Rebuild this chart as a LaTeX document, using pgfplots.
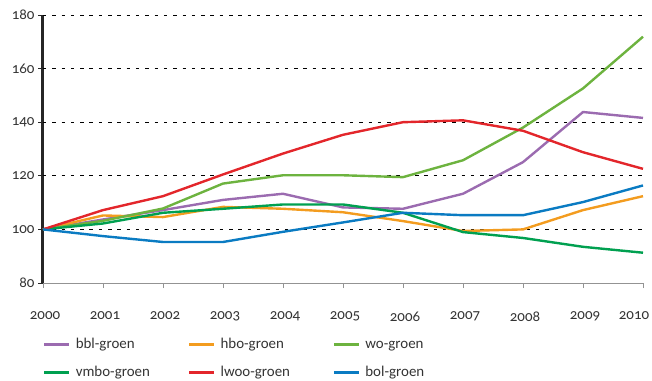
\documentclass[border=0pt]{standalone}
\usepackage{pgfplots}
\pgfplotsset{compat=1.18}
\usepackage{fontspec}
\setmainfont{Carlito}[Numbers=OldStyle]
\definecolor{cbbl}{HTML}{9B6BB0}
\definecolor{chbo}{HTML}{F39C1F}
\definecolor{cwo}{HTML}{6DB33F}
\definecolor{cvmbo}{HTML}{00A050}
\definecolor{clwoo}{HTML}{E3262B}
\definecolor{cbol}{HTML}{0A7BC2}
\definecolor{txt}{HTML}{333333}
\begin{document}
\begin{tikzpicture}
\begin{axis}[
  scale only axis,
  width=600bp, height=268bp,
  xmin=2000, xmax=2010, ymin=80, ymax=180,
  xtick={2000,2001,...,2009},
  extra x ticks={2010},
  extra x tick style={xticklabel style={xshift=-11bp}},
  ytick={80,100,...,180},
  extra y ticks={100,120,...,180},
  extra y tick labels={},
  extra y tick style={grid=major, major tick length=0pt},
  grid style={black, line width=0.8pt, dash pattern=on 3.5bp off 5.8bp},
  axis x line*=bottom, axis y line*=left,
  x axis line style={draw=gray!85, line width=0.8pt, -},
  y axis line style={draw=black!85, line width=3bp, -},
  xtick style={draw=gray!85, line width=0.8pt},
  ytick style={draw=black!85, line width=0.8pt},
  tick align=outside,
  major tick length=5bp,
  xticklabel style={yshift=-20bp, xshift=2bp},
  tick label style={font=\fontsize{15}{17}\selectfont, text=txt},
  /pgf/number format/assume math mode=true,
  /pgf/number format/1000 sep={},
  clip=false,
  legend columns=3,
  legend cell align=left,
  legend style={at={(axis description cs:0,0)}, anchor=north west, yshift=-55bp,
    draw=none, fill=none, inner sep=0pt, outer sep=0pt,
    row sep=15bp,
    font=\fontsize{15}{17}\selectfont, text=txt,
    nodes={inner sep=0pt, text height=10bp, text depth=3bp},
    /tikz/every odd column/.append style={column sep=5bp}},
  legend image code/.code={\draw[line width=2.8bp] (0bp,0bp) -- (25bp,0bp);},
  every axis plot/.append style={line width=2.4bp, mark=none},
]
\addplot[cbbl] coordinates {(2000,100)(2001,103.7)(2002,107.2)(2003,111)(2004,113.3)(2005,108.2)(2006,107.7)(2007,113.3)(2008,125.1)(2009,143.8)(2010,141.6)};
\addlegendentry{\makebox[112bp][l]{bbl-groen}}
\addplot[chbo] coordinates {(2000,100)(2001,105.2)(2002,104.6)(2003,108.4)(2004,107.7)(2005,106.4)(2006,103.1)(2007,99.4)(2008,100)(2009,107.2)(2010,112.4)};
\addlegendentry{\makebox[112bp][l]{hbo-groen}}
\addplot[cwo] coordinates {(2000,100)(2001,103.2)(2002,107.8)(2003,117.1)(2004,120.2)(2005,120.2)(2006,119.5)(2007,125.8)(2008,138)(2009,152.6)(2010,171.9)};
\addlegendentry{\makebox[112bp][l]{wo-groen}}
\addplot[cvmbo] coordinates {(2000,100)(2001,102.2)(2002,106.2)(2003,107.7)(2004,109.3)(2005,109.3)(2006,106.2)(2007,99)(2008,96.8)(2009,93.5)(2010,91.3)};
\addlegendentry{\makebox[112bp][l]{vmbo-groen}}
\addplot[clwoo] coordinates {(2000,100)(2001,107.2)(2002,112.4)(2003,120.5)(2004,128.3)(2005,135.3)(2006,140)(2007,140.7)(2008,136.8)(2009,128.8)(2010,122.6)};
\addlegendentry{\makebox[112bp][l]{lwoo-groen}}
\addplot[cbol] coordinates {(2000,100)(2001,97.5)(2002,95.3)(2003,95.3)(2004,99.1)(2005,102.6)(2006,106.2)(2007,105.3)(2008,105.3)(2009,110.2)(2010,116.4)};
\addlegendentry{\makebox[112bp][l]{bol-groen}}
\end{axis}
\pgfresetboundingbox
\path ([xshift=-43bp,yshift=-98bp]current axis.south west) rectangle ([xshift=9bp,yshift=15bp]current axis.north east);
\end{tikzpicture}
\end{document}
